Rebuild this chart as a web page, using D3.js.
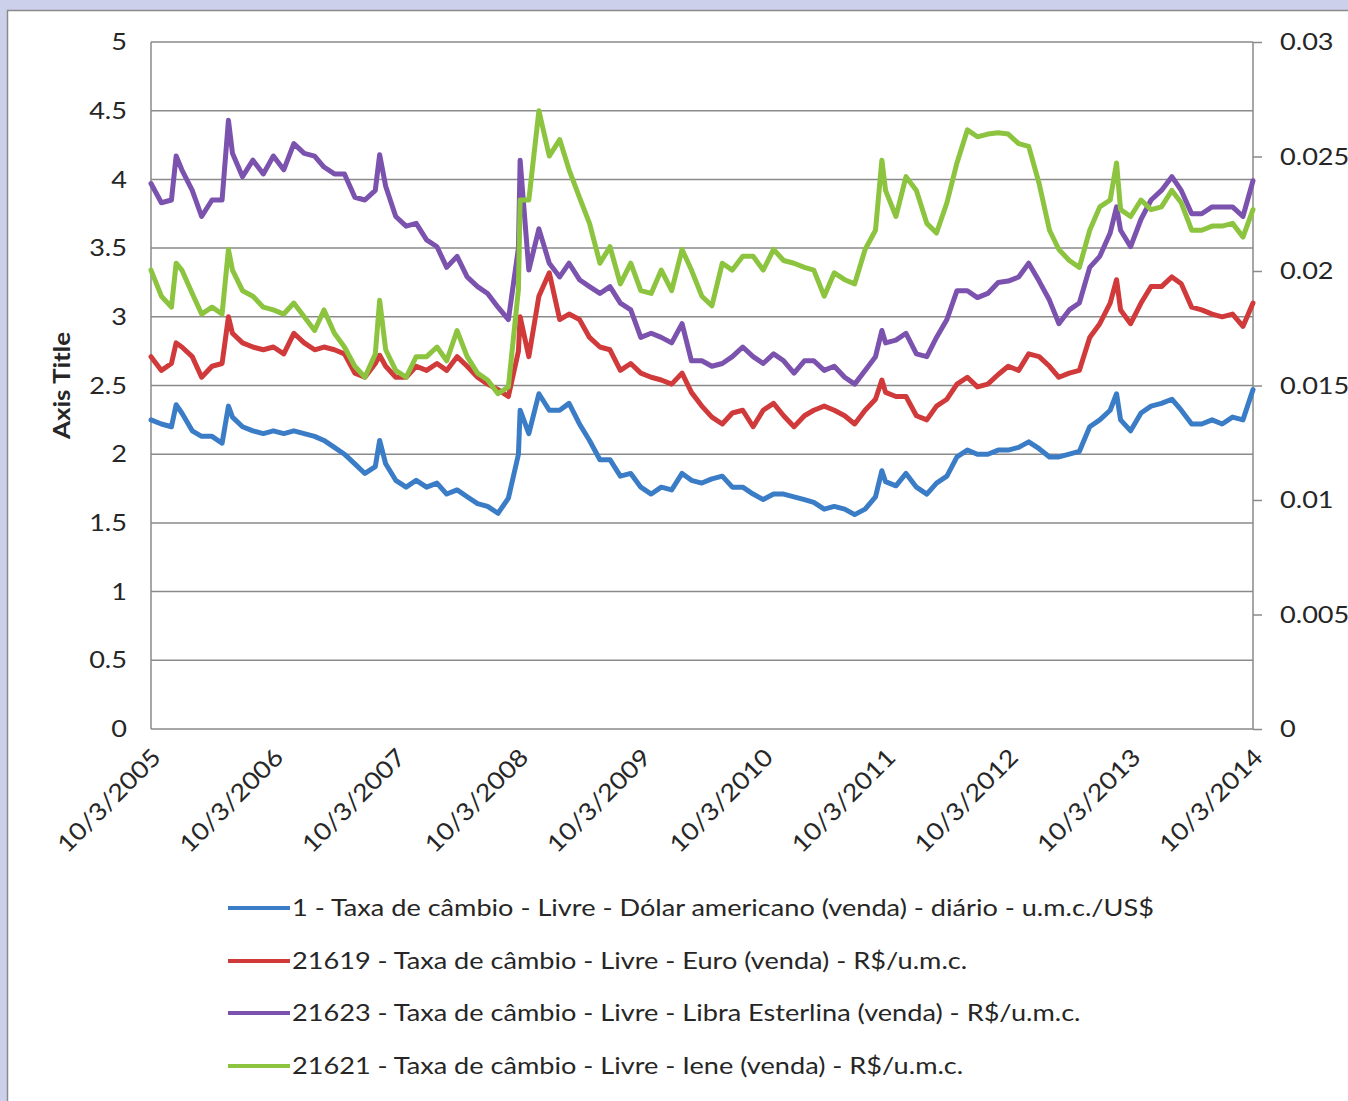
<!DOCTYPE html>
<html lang="pt">
<head>
<meta charset="UTF-8">
<title>Taxas de câmbio</title>
<script src="https://cdnjs.cloudflare.com/ajax/libs/d3/7.8.5/d3.min.js"></script>
<style>
  body { margin: 0; background: #cdd0eb; font-family: Lato, 'Open Sans', sans-serif; }
  svg { display: block; }
  .axis text { fill: #262626; font-size: 24px; font-family: Lato, 'Open Sans', sans-serif; }
  .axis path { display: none; }
  .axis line { stroke: #8a8a8a; stroke-width: 1.5; }
  .grid line { stroke: #8a8a8a; stroke-width: 1.5; }
  .frame { stroke: #8a8a8a; stroke-width: 1.5; }
  .legend text { fill: #262626; font-size: 24px; }
</style>
</head>
<body>
<svg id="chart"></svg>
<script>
// one value per month (3rd), plus a few extra days where the series spike
const dates = [
  "2005-10-03","2005-11-03","2005-12-03","2005-12-17",
  "2006-01-03","2006-02-03","2006-03-03","2006-04-03","2006-05-03","2006-05-22","2006-06-03","2006-07-03","2006-08-03","2006-09-03","2006-10-03","2006-11-03","2006-12-03",
  "2007-01-03","2007-02-03","2007-03-03","2007-04-03","2007-05-03","2007-06-03","2007-07-03","2007-08-03","2007-08-16","2007-09-03","2007-10-03","2007-11-03","2007-12-03",
  "2008-01-03","2008-02-03","2008-03-03","2008-04-03","2008-05-03","2008-06-03","2008-07-03","2008-08-03","2008-09-03","2008-10-03","2008-10-08","2008-11-03","2008-12-03",
  "2009-01-03","2009-02-03","2009-03-03","2009-04-03","2009-05-03","2009-06-03","2009-07-03","2009-08-03","2009-09-03","2009-10-03","2009-11-03","2009-12-03",
  "2010-01-03","2010-02-03","2010-03-03","2010-04-03","2010-05-03","2010-06-03","2010-07-03","2010-08-03","2010-09-03","2010-10-03","2010-11-03","2010-12-03",
  "2011-01-03","2011-02-03","2011-03-03","2011-04-03","2011-05-03","2011-06-03","2011-07-03","2011-08-03","2011-09-03","2011-09-22","2011-10-03","2011-11-03","2011-12-03",
  "2012-01-03","2012-02-03","2012-03-03","2012-04-03","2012-05-03","2012-06-03","2012-07-03","2012-08-03","2012-09-03","2012-10-03","2012-11-03","2012-12-03",
  "2013-01-03","2013-02-03","2013-03-03","2013-04-03","2013-05-03","2013-06-03","2013-07-03","2013-08-03","2013-08-22","2013-09-03","2013-10-03","2013-11-03","2013-12-03",
  "2014-01-03","2014-02-03","2014-03-03","2014-04-03","2014-05-03","2014-06-03","2014-07-03","2014-08-03","2014-09-03","2014-10-03"
];

const dolar = [
  2.25, 2.22, 2.20, 2.36,
  2.30, 2.17, 2.13, 2.13, 2.08, 2.35, 2.27, 2.20, 2.17, 2.15, 2.17, 2.15, 2.17,
  2.15, 2.13, 2.10, 2.05, 2.00, 1.93, 1.86, 1.91, 2.10, 1.93, 1.81, 1.76, 1.81,
  1.76, 1.79, 1.71, 1.74, 1.69, 1.64, 1.62, 1.57, 1.68, 2.00, 2.32, 2.15, 2.44,
  2.32, 2.32, 2.37, 2.22, 2.10, 1.96, 1.96, 1.84, 1.86, 1.76, 1.71, 1.76,
  1.74, 1.86, 1.81, 1.79, 1.82, 1.84, 1.76, 1.76, 1.71, 1.67, 1.71, 1.71,
  1.69, 1.67, 1.65, 1.60, 1.62, 1.60, 1.56, 1.60, 1.69, 1.88, 1.80, 1.77, 1.86,
  1.76, 1.71, 1.79, 1.84, 1.98, 2.03, 2.00, 2.00, 2.03, 2.03, 2.05, 2.09,
  2.04, 1.98, 1.98, 2.00, 2.02, 2.20, 2.25, 2.32, 2.44, 2.25, 2.17, 2.30, 2.35,
  2.37, 2.40, 2.32, 2.22, 2.22, 2.25, 2.22, 2.27, 2.25, 2.47
];

const euro = [
  2.71, 2.61, 2.66, 2.81,
  2.78, 2.71, 2.56, 2.64, 2.66, 3.00, 2.88, 2.81, 2.78, 2.76, 2.78, 2.73, 2.88,
  2.81, 2.76, 2.78, 2.76, 2.73, 2.59, 2.56, 2.66, 2.72, 2.64, 2.56, 2.56, 2.64,
  2.61, 2.66, 2.61, 2.71, 2.64, 2.56, 2.51, 2.47, 2.42, 2.75, 3.00, 2.71, 3.15,
  3.32, 2.98, 3.02, 2.98, 2.85, 2.78, 2.76, 2.61, 2.66, 2.59, 2.56, 2.54,
  2.51, 2.59, 2.45, 2.35, 2.27, 2.22, 2.30, 2.32, 2.20, 2.32, 2.37, 2.28,
  2.20, 2.28, 2.32, 2.35, 2.32, 2.28, 2.22, 2.32, 2.40, 2.54, 2.45, 2.42, 2.42,
  2.28, 2.25, 2.35, 2.40, 2.51, 2.56, 2.49, 2.51, 2.58, 2.64, 2.61, 2.73,
  2.71, 2.64, 2.56, 2.59, 2.61, 2.85, 2.95, 3.10, 3.27, 3.05, 2.95, 3.10, 3.22,
  3.22, 3.29, 3.24, 3.07, 3.05, 3.02, 3.00, 3.02, 2.93, 3.10
];

const libra = [
  3.97, 3.83, 3.85, 4.17,
  4.07, 3.92, 3.73, 3.85, 3.85, 4.43, 4.19, 4.02, 4.14, 4.04, 4.17, 4.07, 4.26,
  4.19, 4.17, 4.09, 4.04, 4.04, 3.87, 3.85, 3.92, 4.18, 3.95, 3.73, 3.66, 3.68,
  3.56, 3.51, 3.36, 3.44, 3.29, 3.22, 3.17, 3.07, 2.98, 3.50, 4.14, 3.34, 3.64,
  3.39, 3.29, 3.39, 3.27, 3.22, 3.17, 3.22, 3.10, 3.05, 2.85, 2.88, 2.85,
  2.81, 2.95, 2.68, 2.68, 2.64, 2.66, 2.71, 2.78, 2.71, 2.66, 2.73, 2.68,
  2.59, 2.68, 2.68, 2.61, 2.64, 2.56, 2.51, 2.61, 2.71, 2.90, 2.81, 2.83, 2.88,
  2.73, 2.71, 2.85, 2.98, 3.19, 3.19, 3.14, 3.17, 3.25, 3.26, 3.29, 3.39,
  3.26, 3.12, 2.95, 3.05, 3.10, 3.36, 3.44, 3.61, 3.80, 3.63, 3.51, 3.71, 3.85,
  3.92, 4.02, 3.92, 3.75, 3.75, 3.80, 3.80, 3.80, 3.73, 3.99
];

// iene is read on the right axis
const iene = [
  0.02004, 0.01890, 0.01842, 0.02034,
  0.02004, 0.01902, 0.01812, 0.01842, 0.01812, 0.02094, 0.02004, 0.01914, 0.01890, 0.01842, 0.01830, 0.01812, 0.01860,
  0.01800, 0.01740, 0.01830, 0.01728, 0.01668, 0.01584, 0.01536, 0.01638, 0.01872, 0.01656, 0.01566, 0.01536, 0.01626,
  0.01626, 0.01668, 0.01608, 0.01740, 0.01626, 0.01554, 0.01524, 0.01464, 0.01494, 0.01920, 0.02310, 0.02310, 0.02700,
  0.02502, 0.02574, 0.02442, 0.02322, 0.02208, 0.02034, 0.02106, 0.01944, 0.02034, 0.01914, 0.01902, 0.02004,
  0.01914, 0.02094, 0.02004, 0.01890, 0.01848, 0.02034, 0.02004, 0.02064, 0.02064, 0.02004, 0.02094, 0.02046,
  0.02034, 0.02016, 0.02004, 0.01890, 0.01992, 0.01962, 0.01944, 0.02094, 0.02178, 0.02484, 0.02352, 0.02238, 0.02412,
  0.02352, 0.02208, 0.02166, 0.02298, 0.02472, 0.02616, 0.02586, 0.02598, 0.02604, 0.02598, 0.02556, 0.02544,
  0.02382, 0.02178, 0.02094, 0.02046, 0.02016, 0.02178, 0.02280, 0.02310, 0.02472, 0.02268, 0.02238, 0.02310, 0.02268,
  0.02280, 0.02352, 0.02298, 0.02178, 0.02178, 0.02196, 0.02196, 0.02208, 0.02148, 0.02268
];

const seriesNames = [
  "1 - Taxa de câmbio - Livre - Dólar americano (venda) - diário - u.m.c./US$",
  "21619 - Taxa de câmbio - Livre - Euro (venda) - R$/u.m.c.",
  "21623 - Taxa de câmbio - Livre - Libra Esterlina (venda) - R$/u.m.c.",
  "21621 - Taxa de câmbio - Livre - Iene (venda) - R$/u.m.c."
];
const xTickLabels = ["10/3/2005","10/3/2006","10/3/2007","10/3/2008","10/3/2009",
                     "10/3/2010","10/3/2011","10/3/2012","10/3/2013","10/3/2014"];
const leftTicks = [0, 0.5, 1, 1.5, 2, 2.5, 3, 3.5, 4, 4.5, 5];
const rightTicks = [0, 0.005, 0.01, 0.015, 0.02, 0.025, 0.03];
const colors = ["#3b7cc6", "#d03a3a", "#7b52ad", "#8cc43f"];

const W = 1348, H = 1101;
const plot = { left: 151, right: 1253, top: 42, bottom: 729 };
const textStretch = 1.13; // the original's lettering is wider than Lato

const parseIso = d3.timeParse("%Y-%m-%d");
const parseTick = d3.timeParse("%m/%d/%Y");
const days = dates.map(parseIso);

const svg = d3.select("#chart").attr("width", W).attr("height", H);

// chart area
svg.append("rect").attr("class", "frame")
  .attr("x", 7.5).attr("y", 10.5).attr("width", W + 20).attr("height", H + 20)
  .attr("fill", "#fff");

const x = d3.scaleTime()
  .domain([parseTick(xTickLabels[0]), parseTick(xTickLabels[xTickLabels.length - 1])])
  .range([plot.left, plot.right]);
const yL = d3.scaleLinear().domain([0, 5]).range([plot.bottom, plot.top]);
const yR = d3.scaleLinear().domain([0, 0.03]).range([plot.bottom, plot.top]);

// gridlines
svg.append("g").attr("class", "grid")
  .selectAll("line").data(leftTicks).join("line")
  .attr("x1", plot.left).attr("x2", plot.right)
  .attr("y1", d => yL(d)).attr("y2", d => yL(d));

// vertical axis lines
svg.append("line").attr("class", "frame")
  .attr("x1", plot.left).attr("x2", plot.left).attr("y1", plot.top).attr("y2", plot.bottom);
svg.append("line").attr("class", "frame")
  .attr("x1", plot.right).attr("x2", plot.right).attr("y1", plot.top).attr("y2", plot.bottom);

// left axis
svg.append("g").attr("class", "axis")
  .attr("transform", `translate(${plot.left},0)`)
  .call(d3.axisLeft(yL).tickValues(leftTicks).tickSize(0).tickPadding(24).tickFormat(d => String(d)));

// right axis
svg.append("g").attr("class", "axis")
  .attr("transform", `translate(${plot.right},0)`)
  .call(d3.axisRight(yR).tickValues(rightTicks).tickSize(9).tickPadding(18)
    .tickFormat(d => String(+d.toFixed(3))));

// bottom axis labels, rotated
const xg = svg.append("g").attr("class", "axis")
  .attr("transform", `translate(0,${plot.bottom})`)
  .call(d3.axisBottom(x).tickValues(xTickLabels.map(parseTick)).tickSize(0)
    .tickFormat((d, i) => xTickLabels[i]));
xg.selectAll("text")
  .attr("text-anchor", "end")
  .attr("dy", "0.35em")
  .attr("y", 0)
  .attr("transform", "translate(5,24) rotate(-45)");

// y axis title
svg.append("text")
  .attr("transform", `translate(70,${(plot.top + plot.bottom) / 2}) rotate(-90)`)
  .attr("text-anchor", "middle")
  .attr("font-size", 23).attr("font-weight", "bold").attr("fill", "#262626")
  .text("Axis Title");

// lines
const series = [
  { values: dolar, y: yL },
  { values: euro, y: yL },
  { values: libra, y: yL },
  { values: iene, y: yR }
];
series.forEach((s, k) => {
  if (s.values.length !== days.length) throw new Error("length mismatch in series " + k);
  const line = d3.line().x((d, i) => x(days[i])).y(d => s.y(d));
  svg.append("path")
    .attr("d", line(s.values))
    .attr("fill", "none")
    .attr("stroke", colors[k])
    .attr("stroke-width", 5)
    .attr("stroke-linejoin", "round")
    .attr("stroke-linecap", "round");
});

// legend
const lg = svg.append("g").attr("class", "legend");
const legendY = [908, 961, 1013, 1066];
seriesNames.forEach((name, k) => {
  lg.append("line")
    .attr("x1", 228).attr("x2", 290)
    .attr("y1", legendY[k]).attr("y2", legendY[k])
    .attr("stroke", colors[k]).attr("stroke-width", 4);
  lg.append("text")
    .attr("x", 292).attr("y", legendY[k]).attr("dy", "0.35em")
    .text(name);
});

// widen all lettering a little
svg.selectAll("text").each(function () {
  const w = this.getComputedTextLength();
  d3.select(this).attr("textLength", w * textStretch).attr("lengthAdjust", "spacingAndGlyphs");
});
</script>
</body>
</html>
